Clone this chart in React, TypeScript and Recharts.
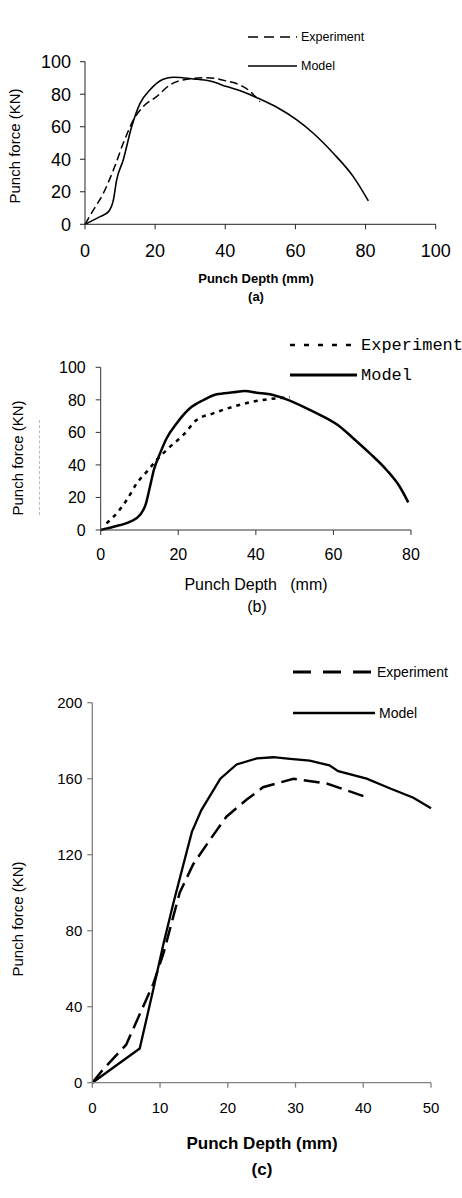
import React from "react";
import { LineChart, Line, XAxis, YAxis } from "recharts";

// (a) punch force vs depth
const depthModelA = [0, 4.3, 6.7, 8.1, 9, 10.9, 13.3, 15.7, 18.5, 22.3, 25.2, 30.9, 35.6, 40.4, 46.1, 49.9, 54.7, 60.4, 65.1, 70.8, 76.5, 80.8];
const forceModelA = [0, 4.7, 7.8, 15, 27, 39.6, 60, 74.4, 82.6, 89.2, 90.4, 89.4, 88.1, 84.7, 80.6, 77, 72, 64.2, 56, 43.7, 29.3, 14.4];
const depthExpA = [0, 2.4, 5.2, 8.1, 10.9, 13.8, 16.6, 20.4, 24.2, 29, 34.7, 40.4, 44.2, 46.6, 49.9];
const forceExpA = [0, 8.8, 19, 33.4, 49.8, 64.2, 72.4, 78.5, 85.7, 89.2, 90.2, 88.1, 85.7, 82.6, 75.4];
const xTicksA = [0, 20, 40, 60, 80, 100];
const yTicksA = [0, 20, 40, 60, 80, 100];

// (b)
const depthModelB = [0, 3.3, 7.6, 10.1, 11.6, 12.7, 13.7, 15.3, 17, 19.6, 23, 26.5, 29.9, 34.2, 37.2, 40.2, 43.6, 47.9, 53.1, 57.4, 61.7, 65.1, 69.4, 73.7, 77.1, 79.3];
const forceModelB = [0, 2, 5.1, 9.2, 15.8, 26.6, 36.9, 47.1, 56.4, 65.6, 74.8, 79.9, 83.4, 84.6, 85.5, 84.4, 83.4, 80.3, 74.8, 69.7, 63.5, 56.4, 47.1, 36.9, 26.6, 17];
const depthExpB = [1.5, 4.1, 6.7, 9.3, 11.9, 14.4, 17.9, 21.3, 24.7, 29, 34.2, 39.3, 43.6, 48.8];
const forceExpB = [4.1, 10.2, 18.4, 28.7, 35.9, 43, 51.2, 58.4, 67.6, 71.7, 75.8, 78.9, 80.5, 81.6];
const xTicksB = [0, 20, 40, 60, 80];
const yTicksB = [0, 20, 40, 60, 80, 100];

// (c)
const depthModelC = [0, 7, 9, 10.5, 12, 14.7, 16.1, 18.9, 21.3, 24.3, 26.7, 29.2, 32.1, 35, 36.3, 40.5, 43.9, 47.4, 50];
const forceModelC = [0, 18, 49, 73, 95, 132, 143.5, 160, 167.5, 170.7, 171.3, 170.4, 169.5, 167, 164, 160, 155, 150, 144.5];
const depthExpC = [0, 1.6, 5, 7, 9, 10.5, 12.9, 14.9, 17.4, 19.8, 22.8, 25.2, 29.7, 34.6, 40.3];
const forceExpC = [0, 7, 20, 36, 52, 68, 100, 115, 128, 140, 149, 155.5, 160, 157.5, 150.5];
const xTicksC = [0, 10, 20, 30, 40, 50];
const yTicksC = [0, 40, 80, 120, 160, 200];

const pts = (xs: number[], ys: number[]) => xs.map((x, i) => ({ x, y: ys[i] }));

const SANS = "'Liberation Sans', Arial, sans-serif";
const MONO = "'Liberation Mono', 'Courier New', monospace";

type CapProps = { x: number; y: number; size: number; bold?: boolean; rotate?: boolean; font?: string; children: React.ReactNode };
const Caption = ({ x, y, size, bold, rotate, font, children }: CapProps) => (
  <div
    style={{
      position: "absolute",
      left: x,
      top: y,
      transform: `translate(-50%, -50%)${rotate ? " rotate(-90deg)" : ""}`,
      fontFamily: font || SANS,
      fontSize: size,
      fontWeight: bold ? 700 : 400,
      whiteSpace: "pre",
      color: "#000",
      lineHeight: 1,
    }}
  >
    {children}
  </div>
);

type KeyProps = { x1: number; x2: number; y: number; dash?: string; width: number; label: string; size: number; font?: string };
const LegendKey = ({ x1, x2, y, dash, width, label, size, font }: KeyProps) => (
  <>
    <svg style={{ position: "absolute", left: x1, top: y - 5, overflow: "visible" }} width={x2 - x1} height={10}>
      <line x1={0} y1={5} x2={x2 - x1} y2={5} stroke="#000" strokeWidth={width} strokeDasharray={dash} />
    </svg>
    <div
      style={{
        position: "absolute",
        left: x2 + 4,
        top: y,
        transform: "translateY(-50%)",
        fontFamily: font || SANS,
        fontSize: size,
        whiteSpace: "pre",
        lineHeight: 1,
      }}
    >
      {label}
    </div>
  </>
);

const App = () => {
  return (
    <div style={{ position: "absolute", left: 0, top: 0, width: 462, height: 1198, background: "#fff", overflow: "hidden" }}>
      {/* (a) */}
      <div style={{ position: "absolute", left: 0, top: 0 }}>
        <LineChart width={462} height={300} margin={{ top: 61.7, right: 26.3, bottom: 45.7, left: 25 }}>
          <XAxis
            type="number"
            dataKey="x"
            domain={[0, 100]}
            ticks={xTicksA}
            height={30}
            tickSize={5}
            tickMargin={15}
            stroke="#222"
            tick={{ fill: "#000", fontSize: 18, fontFamily: SANS }}
          />
          <YAxis
            type="number"
            domain={[0, 100]}
            ticks={yTicksA}
            width={60}
            tickSize={5}
            tickMargin={9}
            stroke="#222"
            tick={{ fill: "#000", fontSize: 18, fontFamily: SANS }}
          />
          <Line data={pts(depthExpA, forceExpA)} dataKey="y" type="monotone" stroke="#000" strokeWidth={1.5} strokeDasharray="8 4" dot={false} activeDot={false} isAnimationActive={false} />
          <Line data={pts(depthModelA, forceModelA)} dataKey="y" type="monotone" stroke="#000" strokeWidth={1.6} dot={false} activeDot={false} isAnimationActive={false} />
        </LineChart>
      </div>
      <LegendKey x1={248} x2={297} y={37} dash="10 6" width={1.5} label="Experiment" size={12.5} />
      <LegendKey x1={248} x2={297} y={66} width={1.3} label="Model" size={12.5} />
      <Caption x={14} y={146} size={15} rotate>Punch force (KN)</Caption>
      <Caption x={256} y={278} size={13} bold>Punch Depth (mm)</Caption>
      <Caption x={256} y={296} size={13} bold>(a)</Caption>

      {/* (b) */}
      <div style={{ position: "absolute", left: 0, top: 320 }}>
        <LineChart width={462} height={300} margin={{ top: 47.3, right: 51, bottom: 60, left: 40.7 }}>
          <XAxis
            type="number"
            dataKey="x"
            domain={[0, 80]}
            ticks={xTicksB}
            height={30}
            tickSize={5}
            tickMargin={14}
            stroke="#333"
            tick={{ fill: "#000", fontSize: 16, fontFamily: SANS }}
          />
          <YAxis
            type="number"
            domain={[0, 100]}
            ticks={yTicksB}
            width={60}
            tickSize={5}
            tickMargin={10}
            stroke="#333"
            tick={{ fill: "#000", fontSize: 16, fontFamily: SANS }}
          />
          <Line data={pts(depthExpB, forceExpB)} dataKey="y" type="monotone" stroke="#000" strokeWidth={2.5} strokeDasharray="4 5" dot={false} activeDot={false} isAnimationActive={false} />
          <Line data={pts(depthModelB, forceModelB)} dataKey="y" type="monotone" stroke="#000" strokeWidth={2.5} dot={false} activeDot={false} isAnimationActive={false} />
        </LineChart>
      </div>
      <LegendKey x1={290} x2={357} y={345} dash="5 9" width={2.5} label="Experiment" size={17} font={MONO} />
      <LegendKey x1={290} x2={357} y={375} width={3} label="Model" size={17} font={MONO} />
      <div style={{ position: "absolute", left: 39, top: 420, height: 95, borderLeft: "1px dashed #bbb" }} />
      <Caption x={17} y={458} size={15} rotate>Punch force (KN)</Caption>
      <Caption x={256} y={585} size={16}>{"Punch Depth   (mm)"}</Caption>
      <Caption x={257} y={607} size={16}>(b)</Caption>

      {/* (c) */}
      <div style={{ position: "absolute", left: 0, top: 640 }}>
        <LineChart width={462} height={558} margin={{ top: 62.7, right: 31, bottom: 85.3, left: 32.3 }}>
          <XAxis
            type="number"
            dataKey="x"
            domain={[0, 50]}
            ticks={xTicksC}
            height={30}
            tickSize={5}
            tickMargin={15}
            stroke="#808080"
            strokeWidth={1.3}
            tick={{ fill: "#000", fontSize: 15, fontFamily: SANS }}
          />
          <YAxis
            type="number"
            domain={[0, 200]}
            ticks={yTicksC}
            width={60}
            tickSize={5}
            tickMargin={5}
            stroke="#808080"
            strokeWidth={1.3}
            tick={{ fill: "#000", fontSize: 15, fontFamily: SANS }}
          />
          <Line data={pts(depthExpC, forceExpC)} dataKey="y" type="linear" stroke="#000" strokeWidth={2.5} strokeDasharray="16 7" dot={false} activeDot={false} isAnimationActive={false} />
          <Line data={pts(depthModelC, forceModelC)} dataKey="y" type="linear" stroke="#000" strokeWidth={2.3} dot={false} activeDot={false} isAnimationActive={false} />
        </LineChart>
      </div>
      <LegendKey x1={293} x2={373} y={672} dash="18 12" width={3} label="Experiment" size={14} />
      <LegendKey x1={293} x2={375} y={713} width={2.5} label="Model" size={14} />
      <Caption x={17} y={919} size={15} rotate>Punch force (KN)</Caption>
      <Caption x={262} y={1143} size={17} bold>Punch Depth (mm)</Caption>
      <Caption x={262} y={1169} size={17} bold>(c)</Caption>
    </div>
  );
};

export default App;
